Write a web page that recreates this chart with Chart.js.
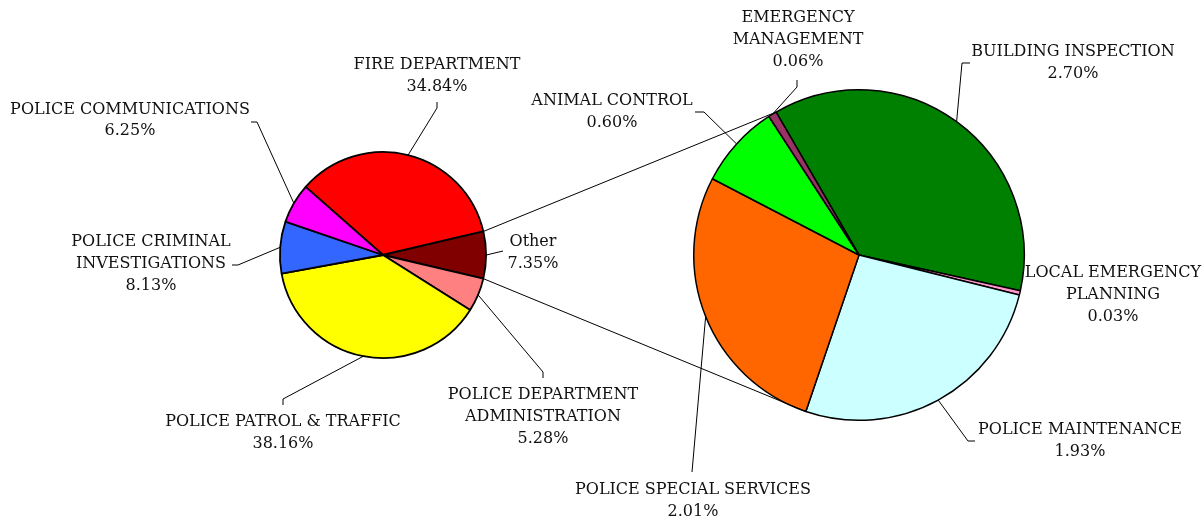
<!DOCTYPE html>
<html>
<head>
<meta charset="utf-8">
<title>Department Budget Share</title>
<script src="https://cdn.jsdelivr.net/npm/chart.js@4.4.1/dist/chart.umd.min.js"></script>
<style>
  html, body { margin: 0; padding: 0; background: #fff; }
  #wrap { position: relative; width: 1204px; height: 521px; overflow: hidden; }
  #wrap canvas { position: absolute; left: 0; top: 0; }
</style>
</head>
<body>
<div id="wrap">
  <canvas id="mainPie" width="1204" height="521"></canvas>
  <canvas id="otherPie" width="1204" height="521"></canvas>
</div>
<script>
// Main pie: share of total spending by department
const mainLabels = [
  'FIRE DEPARTMENT',
  'Other',
  ['POLICE DEPARTMENT', 'ADMINISTRATION'],
  'POLICE PATROL & TRAFFIC',
  ['POLICE CRIMINAL', 'INVESTIGATIONS'],
  'POLICE COMMUNICATIONS'
];
const mainValues = [34.84, 7.35, 5.28, 38.16, 8.13, 6.25];
const mainColors = ['#FF0000', '#800000', '#FF8080', '#FFFF00', '#3366FF', '#FF00FF'];

// Secondary pie: breakdown of "Other"
const otherLabels = [
  'BUILDING INSPECTION',
  ['LOCAL EMERGENCY', 'PLANNING'],
  'POLICE MAINTENANCE',
  'POLICE SPECIAL SERVICES',
  'ANIMAL CONTROL',
  ['EMERGENCY', 'MANAGEMENT']
];
const otherValues = [2.70, 0.03, 1.93, 2.01, 0.60, 0.06];
const otherColors = ['#008000', '#FF99CC', '#CCFFFF', '#FF6600', '#00FF00', '#993366'];

// Label placement: text centre x, line centres y, and elbow points of the leader line
const mainLabelPos = [
  { x: 437, y: [65, 87], elbow: [[437, 102], [437, 108]] },
  { x: 533, y: [242, 264], elbow: [[503, 251]] },
  { x: 543, y: [395, 417, 439], elbow: [[543, 378], [543, 372]] },
  { x: 283, y: [422, 444], elbow: [[283, 405], [283, 399]] },
  { x: 151, y: [242, 264, 286], elbow: [[232, 265], [238, 265]] },
  { x: 130, y: [110, 131], elbow: [[251, 122], [257, 122]] }
];
const otherLabelPos = [
  { x: 1073, y: [52, 74], elbow: [[970, 63], [962, 63]] },
  { x: 1113, y: [273, 295, 317], elbow: null },
  { x: 1080, y: [430, 452], elbow: [[975, 441], [968, 441]] },
  { x: 693, y: [490, 512], elbow: [[692, 472]] },
  { x: 612, y: [101, 123], elbow: [[695, 112], [704, 112]] },
  { x: 798, y: [18, 40, 62], elbow: [[797, 80], [797, 87]] }
];

const FONT = '16px "DejaVu Serif", serif';

function pct(v) { return v.toFixed(2) + '%'; }

function labelPlugin(labels, values, positions) {
  return {
    id: 'sliceLabels',
    afterDatasetsDraw(chart) {
      const ctx = chart.ctx;
      const arcs = chart.getDatasetMeta(0).data;
      ctx.save();
      ctx.font = FONT;
      ctx.fillStyle = '#111';
      ctx.strokeStyle = '#000';
      ctx.lineWidth = 1;
      ctx.textAlign = 'center';
      ctx.textBaseline = 'middle';
      arcs.forEach((arc, i) => {
        const p = positions[i];
        const lines = [].concat(labels[i], pct(values[i]));
        lines.forEach((t, k) => ctx.fillText(t, p.x, p.y[k]));
        if (p.elbow) {
          const { x, y, startAngle, endAngle, outerRadius } =
            arc.getProps(['x', 'y', 'startAngle', 'endAngle', 'outerRadius'], true);
          const mid = (startAngle + endAngle) / 2;
          ctx.beginPath();
          ctx.moveTo(p.elbow[0][0], p.elbow[0][1]);
          for (let k = 1; k < p.elbow.length; k++) ctx.lineTo(p.elbow[k][0], p.elbow[k][1]);
          ctx.lineTo(x + Math.cos(mid) * outerRadius, y + Math.sin(mid) * outerRadius);
          ctx.stroke();
        }
      });
      ctx.restore();
    }
  };
}

const mainChart = new Chart(document.getElementById('mainPie'), {
  type: 'pie',
  data: {
    labels: mainLabels,
    datasets: [{
      data: mainValues,
      backgroundColor: mainColors,
      borderColor: '#000',
      borderWidth: 1.8
    }]
  },
  options: {
    responsive: false,
    animation: false,
    rotation: -48.6,
    layout: { padding: { left: 279, right: 717, top: 151, bottom: 162 } },
    plugins: { legend: { display: false }, tooltip: { enabled: false } }
  },
  plugins: [labelPlugin(mainLabels, mainValues, mainLabelPos)]
});

// Series lines joining the "Other" slice to the secondary pie
const seriesLines = {
  id: 'seriesLines',
  afterDatasetsDraw(chart) {
    const src = mainChart.getDatasetMeta(0).data[1]
      .getProps(['x', 'y', 'startAngle', 'endAngle', 'outerRadius'], true);
    const arcs = chart.getDatasetMeta(0).data;
    const top = arcs[0].getProps(['x', 'y', 'startAngle', 'outerRadius'], true);
    const bot = arcs[3].getProps(['x', 'y', 'startAngle', 'outerRadius'], true);
    const ctx = chart.ctx;
    ctx.save();
    ctx.strokeStyle = '#000';
    ctx.lineWidth = 1;
    ctx.beginPath();
    ctx.moveTo(src.x + Math.cos(src.startAngle) * src.outerRadius, src.y + Math.sin(src.startAngle) * src.outerRadius);
    ctx.lineTo(top.x + Math.cos(top.startAngle) * top.outerRadius, top.y + Math.sin(top.startAngle) * top.outerRadius);
    ctx.moveTo(src.x + Math.cos(src.endAngle) * src.outerRadius, src.y + Math.sin(src.endAngle) * src.outerRadius);
    ctx.lineTo(bot.x + Math.cos(bot.startAngle) * bot.outerRadius, bot.y + Math.sin(bot.startAngle) * bot.outerRadius);
    ctx.stroke();
    ctx.restore();
  }
};

new Chart(document.getElementById('otherPie'), {
  type: 'pie',
  data: {
    labels: otherLabels,
    datasets: [{
      data: otherValues,
      backgroundColor: otherColors,
      borderColor: '#000',
      borderWidth: 1.5
    }]
  },
  options: {
    responsive: false,
    animation: false,
    rotation: -30.1,
    layout: { padding: { left: 693, right: 179, top: 89, bottom: 100 } },
    plugins: { legend: { display: false }, tooltip: { enabled: false } }
  },
  plugins: [labelPlugin(otherLabels, otherValues, otherLabelPos), seriesLines]
});
</script>
</body>
</html>
